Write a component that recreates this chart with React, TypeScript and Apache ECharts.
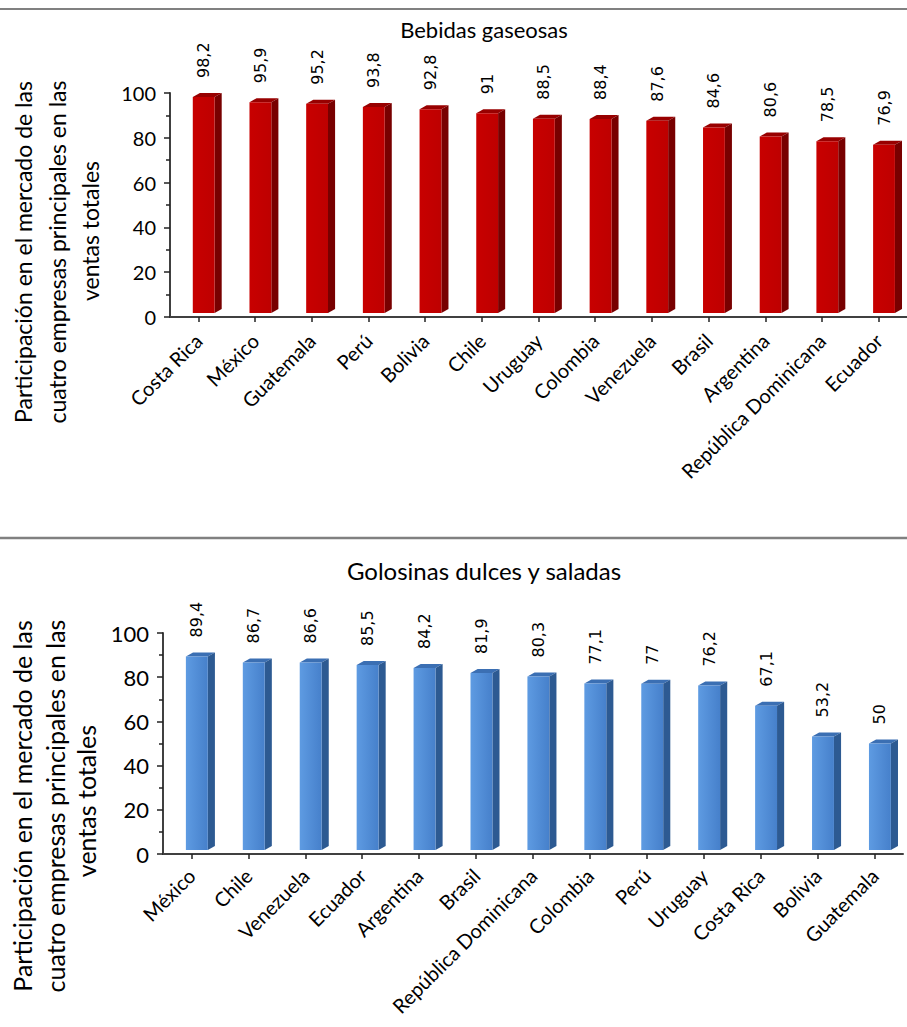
import React, { useEffect, useRef } from "react";
import * as echarts from "echarts";

const titleTop = "Bebidas gaseosas";
const titleBottom = "Golosinas dulces y saladas";
const yTitleLines = [
  "Participación en el mercado de las",
  "cuatro empresas principales en las",
  "ventas totales",
];

const catsTop = [
  "Costa Rica", "México", "Guatemala", "Perú", "Bolivia", "Chile", "Uruguay",
  "Colombia", "Venezuela", "Brasil", "Argentina", "República Dominicana", "Ecuador",
];
const valsTop = [98.2, 95.9, 95.2, 93.8, 92.8, 91, 88.5, 88.4, 87.6, 84.6, 80.6, 78.5, 76.9];

const catsBottom = [
  "México", "Chile", "Venezuela", "Ecuador", "Argentina", "Brasil", "República Dominicana",
  "Colombia", "Perú", "Uruguay", "Costa Rica", "Bolivia", "Guatemala",
];
const valsBottom = [89.4, 86.7, 86.6, 85.5, 84.2, 81.9, 80.3, 77.1, 77, 76.2, 67.1, 53.2, 50];

const yTicks = { min: 0, max: 100, interval: 20 };

const FONT = "Lato";
const LABEL_FONT = "DejaVu Sans";

function fmt(v: number) {
  return String(v).replace(".", ",");
}

function makeRender(front: any, side: string, top: string, labelSize: number) {
  return (params: any, api: any) => {
    const i = api.value(0);
    const v = api.value(1);
    const p = api.coord([i, v]);
    const p0 = api.coord([i, 0]);
    const bw = api.size([1, 0])[0];
    const cx = p[0];
    const yTop = p[1];
    const y0 = p0[1];
    const fw = bw * 0.385;
    const dx = bw * 0.125;
    const dy = 4;
    const xl = cx - bw * 0.098;
    const xr = xl + fw;
    const yBot = y0 - 4;
    return {
      type: "group",
      children: [
        {
          type: "polygon",
          shape: { points: [[xl, yTop], [xl + dx, yTop - dy], [xr + dx, yTop - dy], [xr, yTop]] },
          style: { fill: top },
        },
        {
          type: "polygon",
          shape: { points: [[xr, yTop], [xr + dx, yTop - dy], [xr + dx, yBot - dy], [xr, yBot]] },
          style: { fill: side },
        },
        {
          type: "rect",
          shape: { x: xl, y: yTop, width: fw, height: yBot - yTop },
          style: { fill: front },
        },
        {
          type: "text",
          x: (xl + xr) / 2,
          y: yTop - 19,
          rotation: Math.PI / 2,
          style: {
            text: fmt(v),
            textAlign: "left",
            textVerticalAlign: "middle",
            fill: "#000",
            font: `${labelSize}px "${LABEL_FONT}"`,
          },
        },
      ],
    };
  };
}

function axisPair(gridIndex: number, cats: string[], xFont: number, yFont: number, margin: number) {
  const xAxis = {
    type: "category",
    gridIndex,
    data: cats,
    axisLine: { show: true, lineStyle: { color: "#404040", width: 2 } },
    axisTick: { show: true, alignWithLabel: true, length: 5, lineStyle: { color: "#222", width: 1.5 } },
    axisLabel: {
      interval: 0,
      rotate: 45,
      margin,
      color: "#000",
      fontFamily: FONT,
      fontSize: xFont,
    },
    splitLine: { show: false },
  };
  const yAxis = {
    type: "value",
    gridIndex,
    min: yTicks.min,
    max: yTicks.max,
    interval: yTicks.interval,
    axisLine: { show: true, lineStyle: { color: "#404040", width: 2 } },
    axisTick: { show: true, length: 6, lineStyle: { color: "#222", width: 1.5 } },
    minorTick: { show: true, splitNumber: 2, length: 4, lineStyle: { color: "#222", width: 1.5 } },
    axisLabel: { color: "#000", fontFamily: FONT, fontSize: yFont, margin: 14 },
    splitLine: { show: false },
  };
  return { xAxis, yAxis };
}

export default function App() {
  const ref = useRef<HTMLDivElement>(null);
  useEffect(() => {
    if (!ref.current) return;
    const chart = echarts.init(ref.current, undefined, { renderer: "svg" });
    const a = axisPair(0, catsTop, 20, 20, 20);
    const b = axisPair(1, catsBottom, 20, 22, 18);
    const blueFront = new echarts.graphic.LinearGradient(0, 0, 1, 0, [
      { offset: 0, color: "#5E9BE2" },
      { offset: 1, color: "#4680CB" },
    ]);
    const redFront = new echarts.graphic.LinearGradient(0, 0, 1, 0, [
      { offset: 0, color: "#C80000" },
      { offset: 1, color: "#BE0000" },
    ]);
    const yTitleTop = [
      { x: 23, y: 252 },
      { x: 57, y: 252 },
      { x: 90, y: 231 },
    ];
    const yTitleBottom = [
      { x: 22, y: 806 },
      { x: 55, y: 806 },
      { x: 86, y: 801 },
    ];
    const graphic: any[] = [
      { type: "line", shape: { x1: 0, y1: 9, x2: 907, y2: 9 }, style: { stroke: "#808080", lineWidth: 2 } },
      { type: "line", shape: { x1: 0, y1: 538, x2: 907, y2: 538 }, style: { stroke: "#808080", lineWidth: 2.5 } },
      {
        type: "text", x: 484, y: 29,
        style: { text: titleTop, textAlign: "center", textVerticalAlign: "middle", fill: "#000", font: `22px "${FONT}"` },
      },
      {
        type: "text", x: 484, y: 570,
        style: { text: titleBottom, textAlign: "center", textVerticalAlign: "middle", fill: "#000", font: `24px "${FONT}"` },
      },
    ];
    yTitleLines.forEach((t, k) => {
      graphic.push({
        type: "text", x: yTitleTop[k].x, y: yTitleTop[k].y, rotation: Math.PI / 2,
        style: { text: t, textAlign: "center", textVerticalAlign: "middle", fill: "#000", font: `23px "${FONT}"` },
      });
      graphic.push({
        type: "text", x: yTitleBottom[k].x, y: yTitleBottom[k].y, rotation: Math.PI / 2,
        style: { text: t, textAlign: "center", textVerticalAlign: "middle", fill: "#000", font: `25px "${FONT}"` },
      });
    });
    chart.setOption({
      animation: false,
      backgroundColor: "#fff",
      grid: [
        { left: 170, top: 93, width: 745, height: 224 },
        { left: 163, top: 633, width: 740, height: 221 },
      ],
      xAxis: [a.xAxis, b.xAxis],
      yAxis: [a.yAxis, b.yAxis],
      graphic,
      series: [
        {
          type: "custom",
          xAxisIndex: 0,
          yAxisIndex: 0,
          clip: false,
          renderItem: makeRender(redFront, "#780000", "#980000", 16),
          encode: { x: 0, y: 1 },
          data: valsTop.map((v, i) => [i, v]),
        },
        {
          type: "custom",
          xAxisIndex: 1,
          yAxisIndex: 1,
          clip: false,
          renderItem: makeRender(blueFront, "#2D5A92", "#3B6FB3", 16),
          encode: { x: 0, y: 1 },
          data: valsBottom.map((v, i) => [i, v]),
        },
      ],
    });
    return () => chart.dispose();
  }, []);
  return (
    <div
      ref={ref}
      style={{ position: "fixed", left: 0, top: 0, width: 907, height: 1027 }}
    />
  );
}
